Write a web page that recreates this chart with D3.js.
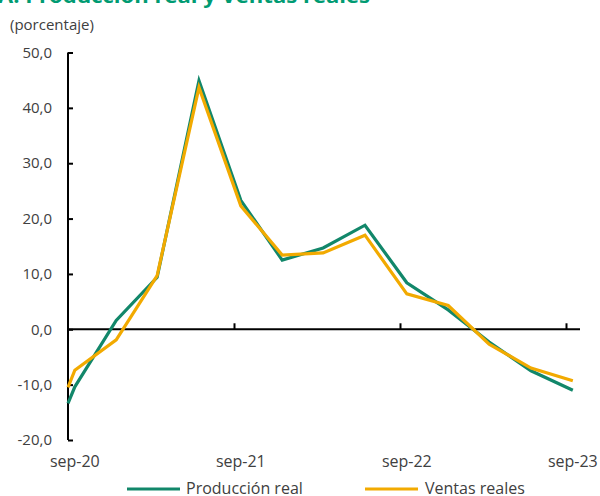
<!DOCTYPE html>
<html><head><meta charset="utf-8">
<script src="https://cdn.jsdelivr.net/npm/d3@7"></script>
<style>
body{margin:0;background:#fff;}
svg{display:block;font-family:"Open Sans",sans-serif;}
</style></head>
<body><svg id="c" width="600" height="496"></svg>
<script>
const title = "A. Producción real y Ventas reales";
const unitLabel = "(porcentaje)";
const fechas = ["2020-09-01","2020-09-16","2020-12-16","2021-03-16","2021-06-16","2021-09-16","2021-12-16","2022-03-16","2022-06-16","2022-09-16","2022-12-16","2023-03-16","2023-06-16","2023-09-16"];
const produccionReal = [-13.4,-10.4,1.6,9.4,44.9,23.3,12.5,14.7,18.8,8.4,3.5,-2.3,-7.5,-11.0];
const ventasReales  = [-10.5,-7.4,-1.9,9.7,43.7,22.3,13.4,13.8,17.0,6.4,4.3,-2.7,-7.0,-9.3];
const xTickDates = ["2020-09-01","2021-09-01","2022-09-01","2023-09-01"];
const xLabelDates = ["2020-09-16","2021-09-16","2022-09-16","2023-09-16"];
const xTickLabels = ["sep-20","sep-21","sep-22","sep-23"];
const yTicks = [-20,-10,0,10,20,30,40,50];
const seriesNames = ["Producción real","Ventas reales"];
const colors = ["#12876a","#f2aa00"];

const parse = d3.utcParse("%Y-%m-%d");
const svg = d3.select("#c");
const x = d3.scaleUtc().domain([parse(xTickDates[0]), parse(xTickDates[3])]).range([68, 566]);
const y = d3.scaleLinear().domain([-20, 50]).range([440, 52.5]);
const fmt = v => d3.format(".1f")(v).replace(".", ",").replace("−","-");

svg.append("text").attr("x", -2).attr("y", 3).attr("fill", "#009b72")
  .attr("font-weight", "bold").attr("font-size", 20)
  .attr("textLength", 372).attr("lengthAdjust","spacingAndGlyphs").text(title);
svg.append("text").attr("x", 10).attr("y", 30).attr("fill", "#404040")
  .attr("font-size", 15).text(unitLabel);

// y axis
const yAx = svg.append("g").attr("transform", "translate(68,0)")
  .call(d3.axisRight(y).tickValues(yTicks).tickSize(5).tickFormat(""));
yAx.select(".domain").attr("stroke", "#000").attr("stroke-width", 2).attr("d", `M0,${y(50)}H0V${y(-20)}`);
yAx.selectAll(".tick line").attr("stroke", "#000").attr("stroke-width", 2);
svg.append("g").selectAll("text").data(yTicks).join("text")
  .attr("x", 52).attr("y", d => y(d)).attr("dy", "0.35em").attr("text-anchor", "end")
  .attr("fill", "#404040").attr("font-size", 15).text(fmt);

// zero axis with ticks upward
const xAx = svg.append("g").attr("transform", `translate(0,${y(0)})`)
  .call(d3.axisTop(x).tickValues(xTickDates.map(parse).slice(1)).tickSize(6).tickFormat(""));
xAx.select(".domain").attr("stroke", "#000").attr("stroke-width", 2).attr("d", `M68,0H580`);
xAx.selectAll(".tick line").attr("stroke", "#000").attr("stroke-width", 2);
svg.append("g").selectAll("text").data(xLabelDates).join("text")
  .attr("x", d => x(parse(d))).attr("y", 467).attr("text-anchor", "middle")
  .attr("fill", "#404040").attr("font-size", 16).text((d, i) => xTickLabels[i]);

// lines
const line = d3.line().x((d, i) => x(parse(fechas[i]))).y(d => y(d));
[produccionReal, ventasReales].forEach((s, k) => {
  svg.append("path").datum(s).attr("d", line).attr("fill", "none")
    .attr("stroke", colors[k]).attr("stroke-width", 3.2).attr("stroke-linejoin", "miter");
});

// legend
const leg = [{x0:127, tx:186},{x0:365, tx:425}];
seriesNames.forEach((n, k) => {
  svg.append("line").attr("x1", leg[k].x0).attr("x2", leg[k].x0 + 53).attr("y1", 489).attr("y2", 489)
    .attr("stroke", colors[k]).attr("stroke-width", 3.2);
  svg.append("text").attr("x", leg[k].tx).attr("y", 494).attr("fill", "#404040")
    .attr("font-size", 16).text(n);
});
</script></body></html>
